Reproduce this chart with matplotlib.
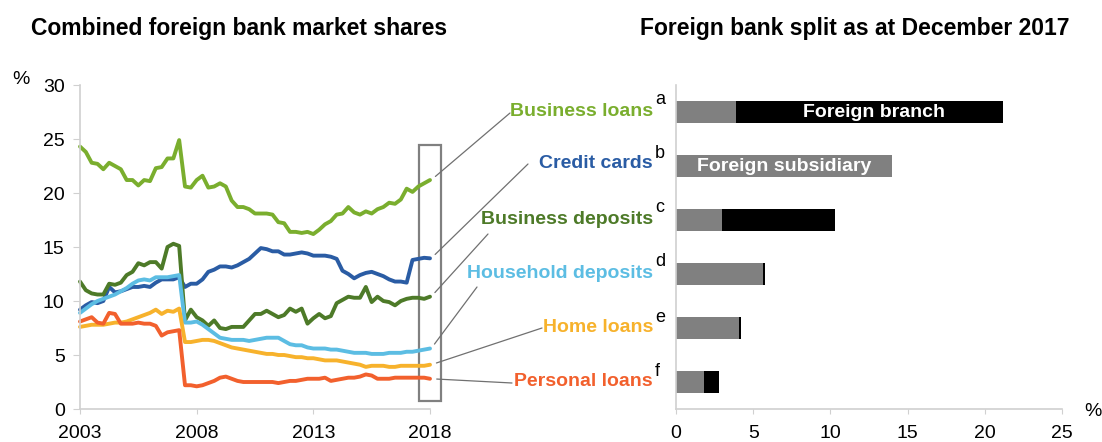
import matplotlib.pyplot as plt
import numpy as np
from matplotlib.patches import Rectangle

plt.rcParams['font.family'] = ['Liberation Sans', 'DejaVu Sans']

# quarterly observations, March 2003 .. December 2017
quarters = 2003 + 0.25 * np.arange(61)

business_loans = [24.3, 23.8, 22.8, 22.7, 22.2, 22.8, 22.5, 22.2, 21.2, 21.2, 20.7, 21.2, 21.1, 22.3, 22.4, 23.2,
                  23.2, 24.9, 20.6, 20.5, 21.2, 21.6, 20.5, 20.6, 20.9, 20.6, 19.3, 18.7, 18.7, 18.5, 18.1, 18.1,
                  18.1, 18.0, 17.3, 17.2, 16.4, 16.4, 16.3, 16.4, 16.2, 16.6, 17.1, 17.4, 18.0, 18.1, 18.7, 18.2,
                  18.0, 18.3, 18.1, 18.5, 18.7, 19.1, 19.0, 19.4, 20.4, 20.1, 20.6, 20.9, 21.2]
credit_cards = [9.2, 9.6, 9.9, 9.8, 10.0, 11.3, 10.8, 10.9, 11.1, 11.3, 11.3, 11.4, 11.3, 11.7, 12.0, 12.0,
                12.0, 12.2, 11.3, 11.6, 11.6, 12.0, 12.7, 12.9, 13.2, 13.2, 13.1, 13.3, 13.6, 13.9, 14.4, 14.9,
                14.8, 14.6, 14.6, 14.3, 14.3, 14.4, 14.5, 14.4, 14.2, 14.2, 14.2, 14.1, 13.9, 12.8, 12.5, 12.1,
                12.4, 12.6, 12.7, 12.5, 12.3, 12.0, 11.8, 11.8, 11.7, 13.8, 13.9, 14.0, 13.95]
business_deposits = [11.8, 11.0, 10.7, 10.6, 10.6, 11.6, 11.5, 11.7, 12.4, 12.7, 13.5, 13.3, 13.6, 13.6, 13.0, 15.0,
                     15.3, 15.1, 8.2, 9.2, 8.5, 8.2, 7.7, 8.2, 7.5, 7.4, 7.6, 7.6, 7.6, 8.2, 8.8, 8.8,
                     9.1, 8.8, 8.5, 8.7, 9.3, 9.0, 9.3, 7.9, 8.4, 8.8, 8.4, 8.6, 9.8, 10.1, 10.4, 10.3,
                     10.3, 11.3, 9.9, 10.4, 10.0, 9.9, 9.6, 10.0, 10.2, 10.3, 10.3, 10.2, 10.4]
household_deposits = [8.9, 9.3, 9.7, 10.0, 10.2, 10.4, 10.6, 10.9, 11.2, 11.6, 11.9, 12.0, 11.9, 12.2, 12.2, 12.2,
                      12.3, 12.4, 8.0, 8.0, 8.1, 7.8, 7.4, 7.0, 6.6, 6.5, 6.4, 6.4, 6.4, 6.3, 6.4, 6.5,
                      6.6, 6.6, 6.6, 6.3, 6.0, 5.9, 5.9, 5.7, 5.6, 5.6, 5.6, 5.5, 5.5, 5.4, 5.3, 5.2,
                      5.2, 5.2, 5.1, 5.1, 5.1, 5.2, 5.2, 5.2, 5.3, 5.3, 5.4, 5.5, 5.6]
home_loans = [7.6, 7.7, 7.8, 7.8, 7.8, 7.9, 8.0, 8.0, 8.1, 8.3, 8.5, 8.7, 8.9, 9.2, 8.8, 9.1,
              9.0, 9.3, 6.2, 6.2, 6.3, 6.4, 6.4, 6.3, 6.1, 5.9, 5.7, 5.6, 5.5, 5.4, 5.3, 5.2,
              5.1, 5.1, 5.0, 5.0, 4.9, 4.8, 4.8, 4.7, 4.7, 4.6, 4.5, 4.5, 4.5, 4.4, 4.3, 4.2,
              4.1, 3.9, 4.0, 4.0, 4.0, 3.9, 3.9, 4.0, 4.0, 4.0, 4.0, 4.0, 4.1]
personal_loans = [8.1, 8.3, 8.5, 8.0, 7.9, 8.9, 8.8, 7.9, 7.9, 7.9, 8.0, 7.9, 7.9, 7.7, 6.8, 7.1,
                  7.2, 7.3, 2.2, 2.2, 2.1, 2.2, 2.4, 2.6, 2.9, 3.0, 2.8, 2.6, 2.5, 2.5, 2.5, 2.5,
                  2.5, 2.5, 2.4, 2.5, 2.6, 2.6, 2.7, 2.8, 2.8, 2.8, 2.9, 2.6, 2.7, 2.8, 2.9, 2.9,
                  3.0, 3.2, 3.1, 2.8, 2.8, 2.8, 2.9, 2.9, 2.9, 2.9, 2.9, 2.9, 2.8]

names = ['Business loans', 'Credit cards', 'Business deposits', 'Household deposits', 'Home loans', 'Personal loans']
letters = ['a', 'b', 'c', 'd', 'e', 'f']
colours = ['#7AAE2E', '#2A5CA4', '#4D7A28', '#5CBDE3', '#F7B22C', '#F2602D']
series = [business_loans, credit_cards, business_deposits, household_deposits, home_loans, personal_loans]

# December 2017 split
subsidiary = [3.9, 14.0, 3.0, 5.65, 4.1, 1.8]
branch = [17.3, 0.0, 7.3, 0.12, 0.12, 1.0]

W, H = 1102, 442
fig = plt.figure(figsize=(W / 100, H / 100), dpi=100)

axis_grey = '#D0D0D0'

# ---- left: lines
ax = fig.add_axes([80 / W, 33 / H, 350 / W, 324 / H])
for s, c in zip(series, colours):
    ax.plot(quarters, s, color=c, lw=2.8, solid_capstyle='round', clip_on=False)
ax.set_xlim(2003, 2018)
ax.set_ylim(0, 30)
ax.set_xticks([2003, 2008, 2013, 2018])
ax.set_yticks(range(0, 31, 5))
for sp in ['top', 'right']:
    ax.spines[sp].set_visible(False)
for sp in ['left', 'bottom']:
    ax.spines[sp].set_color(axis_grey)
    ax.spines[sp].set_linewidth(1.2)
ax.tick_params(axis='y', length=5, color=axis_grey, labelsize=14, pad=6)
ax.tick_params(axis='x', length=3.5, color=axis_grey, labelsize=14, pad=8)
fig.text(12 / W, 1 - 80 / H, '%', fontsize=14, va='center')

# box round the latest observations
ax.add_patch(Rectangle((2017.53, 0.74), 0.94, 23.7, fill=False, ec='#808080', lw=1.6, clip_on=False))

# labels with leader lines
label_pos = [111, 164, 219, 273, 328, 382]
line_ends = [(510, 113), (528, 164), (488, 234), (477, 287), (542, 328), (512, 383)]
for s, n, c, lt, yl, (ex, ey) in zip(series, names, colours, letters, label_pos, line_ends):
    ax.annotate('', xy=(2018.05, s[-1]), xycoords='data',
                xytext=(ex, H - ey), textcoords='figure pixels', annotation_clip=False,
                arrowprops=dict(arrowstyle='-', color='#707070', lw=0.9, shrinkA=0, shrinkB=4))
    fig.text(653 / W, 1 - yl / H, n, color=c, fontsize=14, fontweight='bold', ha='right', va='center')
    fig.text(655 / W, 1 - (yl - 11) / H, lt, color='black', fontsize=13, ha='left', va='center')

# ---- right: bars
bx = fig.add_axes([676 / W, 33 / H, 386 / W, 324 / H])
ypos = np.arange(len(names))
bx.barh(ypos, subsidiary, height=0.42, color='#808080')
bx.barh(ypos, branch, left=subsidiary, height=0.42, color='black')
bx.set_ylim(5.5, -0.5)
bx.set_xlim(0, 25)
bx.set_xticks(range(0, 26, 5))
bx.set_yticks([])
for sp in ['top', 'right']:
    bx.spines[sp].set_visible(False)
for sp in ['left', 'bottom']:
    bx.spines[sp].set_color(axis_grey)
    bx.spines[sp].set_linewidth(1.2)
bx.tick_params(axis='x', length=3.5, color=axis_grey, labelsize=14, pad=8)
bx.text(12.8, 0, 'Foreign branch', color='white', fontsize=14,
        fontweight='bold', ha='center', va='center')
bx.text(7.0, 1, 'Foreign subsidiary', color='white', fontsize=14,
        fontweight='bold', ha='center', va='center')
fig.text(1093 / W, 1 - 412 / H, '%', fontsize=14, ha='center', va='center')

# titles
fig.text(239 / W, 1 - 28 / H, 'Combined foreign bank market shares', fontsize=16.5, fontweight='bold',
         ha='center', va='center')
fig.text(855 / W, 1 - 28 / H, 'Foreign bank split as at December 2017', fontsize=16.5, fontweight='bold',
         ha='center', va='center')

fig.savefig('out.png', dpi=100)
